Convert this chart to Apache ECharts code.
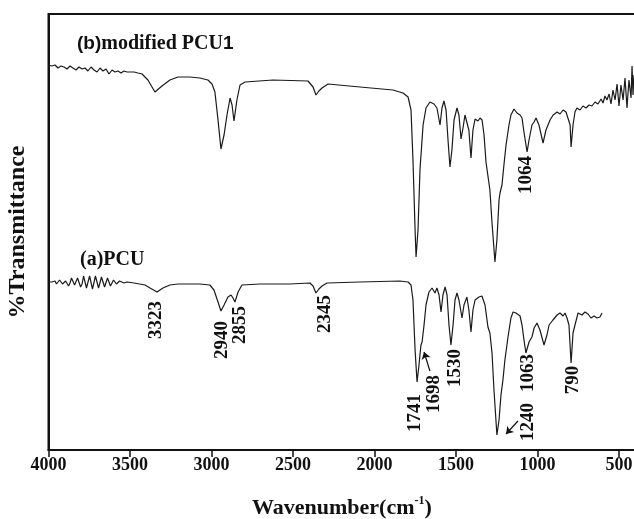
<!DOCTYPE html>
<html>
<head>
<meta charset="utf-8">
<script src="https://cdn.jsdelivr.net/npm/echarts@6/dist/echarts.min.js"></script>
<style>
  html, body { margin: 0; padding: 0; background: #fff; overflow: hidden; }
  #chart { width: 640px; height: 519px; }
</style>
</head>
<body>
<div id="chart"></div>
<script>
// wavenumber (cm-1) ticks
var xTicks = [4000, 3500, 3000, 2500, 2000, 1500, 1000, 500];

// (b) modified PCU1 : [wavenumber, transmittance (arb.)]
var specB = [
  [4000,385],[3979,384],[3960,385],[3942,382],[3923,384],[3905,383],[3886,381],[3868,384],
  [3850,382],[3831,380],[3813,383],[3794,381],[3776,382],[3758,379],[3739,383],[3721,380],
  [3702,378],[3684,382],[3666,379],[3647,381],[3629,376],[3610,380],[3592,378],[3574,379],
  [3555,377],[3537,379],[3518,378],[3500,378],[3475,378],[3451,377],[3426,376],
  [3390,370],[3347,358],[3304,364],[3255,370],[3206,373],[3132,373],[3071,372],[3022,370],
  [2997,366],[2979,358],[2960,330],[2942,301],[2923,315],[2905,335],[2886,352],[2874,345],
  [2862,329],[2844,350],[2825,365],[2794,368],[2623,370],[2408,369],[2377,363],[2359,355],
  [2341,359],[2322,362],[2285,366],[2089,363],[1887,360],[1825,357],[1794,353],[1776,340],
  [1764,290],[1751,220],[1745,193],[1733,220],[1721,280],[1702,325],[1684,342],[1660,348],
  [1635,346],[1617,342],[1598,325],[1586,342],[1574,349],[1561,340],[1549,310],[1537,283],
  [1525,300],[1512,330],[1494,342],[1482,335],[1469,311],[1457,322],[1445,335],[1433,337],
  [1421,320],[1408,292],[1396,320],[1383,331],[1365,329],[1353,332],[1340,330],[1328,315],
  [1316,288],[1304,287],[1292,260],[1279,227],[1261,188],[1249,210],[1236,250],[1230,257],
  [1218,265],[1206,285],[1193,305],[1175,325],[1163,335],[1144,341],[1126,337],[1107,335],
  [1095,332],[1083,318],[1064,298],[1052,310],[1034,325],[1021,328],[1009,332],[991,325],
  [966,307],[948,320],[923,330],[904,335],[880,338],[862,336],[843,340],[825,338],
  [813,340],[800,325],[794,303],[782,325],[770,338],[758,342],[739,340],[721,344],
  [702,342],[684,345],[666,344],[647,348],[629,346],[610,351],[598,347],[586,354],
  [574,350],[561,356],[549,346],[537,360],[524,350],[512,366],[500,344],[488,365],
  [475,350],[463,372],[451,342],[439,370],[426,352],[420,384],[414,355],[408,375]
];

// (a) PCU
var specA = [
  [4000,168],[3979,168],[3960,169],[3951,166],[3942,166],[3932,170],[3923,171],[3914,166],
  [3905,165],[3895,169],[3886,170],[3877,164],[3868,167],[3859,172],[3850,171],[3840,165],
  [3831,164],[3822,172],[3813,170],[3803,163],[3794,166],[3785,174],[3776,172],[3767,162],
  [3758,163],[3748,174],[3739,173],[3730,161],[3721,162],[3712,174],[3702,172],[3693,162],
  [3684,163],[3675,173],[3666,173],[3656,163],[3647,164],[3638,172],[3629,171],[3620,164],
  [3610,165],[3601,170],[3592,170],[3583,166],[3574,166],[3564,169],[3555,169],[3537,167],
  [3518,168],[3475,167],[3408,165],[3377,162],[3334,158],[3298,162],
  [3255,165],[3206,166],[3071,166],[3010,165],[2985,160],[2960,148],[2942,139],[2923,145],
  [2899,153],[2880,155],[2868,152],[2856,148],[2837,158],[2813,165],[2703,166],[2519,166],
  [2396,167],[2377,164],[2359,157],[2341,161],[2322,164],[2291,167],[2089,168],[1844,169],
  [1794,168],[1776,165],[1764,150],[1751,100],[1739,68],[1727,85],[1715,105],[1708,108],
  [1696,125],[1684,145],[1666,158],[1647,162],[1629,157],[1617,162],[1604,155],[1592,138],
  [1580,155],[1567,163],[1555,155],[1543,125],[1531,105],[1518,125],[1506,150],[1494,157],
  [1482,150],[1463,132],[1451,145],[1433,153],[1421,140],[1408,118],[1396,140],[1383,150],
  [1359,153],[1341,154],[1322,145],[1304,123],[1292,117],[1279,97],[1267,60],[1249,15],
  [1236,30],[1224,55],[1212,70],[1200,90],[1181,113],[1163,132],[1150,138],[1132,137],
  [1120,135],[1107,134],[1095,125],[1083,110],[1071,97],[1052,108],[1034,113],[1021,122],
  [1003,127],[985,120],[960,105],[942,115],[929,125],[905,130],[880,135],[862,137],
  [843,134],[831,137],[819,132],[807,125],[794,87],[782,117],[770,125],[751,137],
  [727,135],[709,138],[690,136],[672,132],[653,134],[635,132],[617,133],[604,137]
];

// peak annotations: [text, wavenumber, transmittance] (label centre)
var peaksA = [
  ['3323', 3340, 130], ['2940', 2936, 110], ['2855', 2825, 125], ['2345', 2304, 136],
  ['1741', 1752, 37], ['1698', 1635, 56], ['1530', 1506, 82], ['1240', 1058, 28],
  ['1063', 1058, 77], ['790', 782, 70]
];
var peaksB = [['1064', 1071, 275]];

// arrows: [from, to]
var arrowsA = [
  [[1660, 79], [1696, 98]],
  [[1120, 29], [1193, 16]]
];

var serif = '"Liberation Serif", "Times New Roman", serif';
var sans = '"Liberation Sans", Arial, sans-serif';

function peakPoints(list) {
    return list.map(function (p) {
        return { name: p[0], coord: [p[1], p[2]] };
    });
}

var chart = echarts.init(document.getElementById('chart'));
var option = {
    animation: false,
    backgroundColor: '#fff',
    grid: {
        left: 48.5,
        right: 4.7,
        top: 14,
        bottom: 69,
        outerBoundsMode: 'none',
        containLabel: false,
        show: true,
        borderColor: '#111',
        borderWidth: 2
    },
    xAxis: {
        type: 'value',
        inverse: true,
        min: 400,
        max: 4000,
        name: '{n|Wavenumber(cm}{s|-1}{n|)}',
        nameLocation: 'middle',
        nameGap: 45,
        nameTextStyle: {
            rich: {
                n: { fontFamily: serif, fontWeight: 'bold', fontSize: 22, color: '#111', lineHeight: 26 },
                s: { fontFamily: serif, fontWeight: 'bold', fontSize: 12, color: '#111', verticalAlign: 'top', lineHeight: 26 }
            }
        },
        axisLine: { lineStyle: { color: '#111', width: 2 } },
        axisTick: { customValues: xTicks, length: 7, lineStyle: { color: '#111', width: 1.5 } },
        axisLabel: {
            customValues: xTicks,
            margin: 6,
            color: '#111',
            fontFamily: serif,
            fontWeight: 'bold',
            fontSize: 18,
            formatter: function (v) { return String(v); }
        },
        splitLine: { show: false }
    },
    yAxis: {
        type: 'value',
        min: 0,
        max: 436,
        name: '%Transmittance',
        nameLocation: 'middle',
        nameGap: 19,
        nameTextStyle: { fontFamily: serif, fontWeight: 'bold', fontSize: 24, color: '#111' },
        axisLine: { show: true, lineStyle: { color: '#111', width: 2 } },
        axisTick: { show: false },
        axisLabel: { show: false },
        splitLine: { show: false }
    },
    series: [
        {
            name: 'modified PCU1',
            type: 'line',
            data: specB,
            showSymbol: false,
            lineStyle: { color: '#1a1a1a', width: 1.2 },
            markPoint: {
                symbolSize: 0,
                label: {
                    show: true, formatter: '{b}', position: 'inside', rotate: 90,
                    fontFamily: serif, fontWeight: 'bold', fontSize: 19, color: '#111'
                },
                data: peakPoints(peaksB)
            }
        },
        {
            name: 'PCU',
            type: 'line',
            data: specA,
            showSymbol: false,
            lineStyle: { color: '#1a1a1a', width: 1.2 },
            markPoint: {
                symbolSize: 0,
                label: {
                    show: true, formatter: '{b}', position: 'inside', rotate: 90,
                    fontFamily: serif, fontWeight: 'bold', fontSize: 19, color: '#111'
                },
                data: peakPoints(peaksA)
            },
            markLine: {
                silent: true,
                symbol: ['none', 'arrow'],
                symbolSize: 7,
                label: { show: false },
                lineStyle: { color: '#111', width: 1.2, type: 'solid' },
                data: arrowsA.map(function (a) {
                    return [{ coord: a[0] }, { coord: a[1] }];
                })
            }
        }
    ],
    graphic: [
        {
            type: 'text',
            left: 77,
            top: 34,
            style: {
                text: '{s|(b)}{m|modified PCU}{s|1}',
                rich: {
                    s: { fontFamily: sans, fontWeight: 'bold', fontSize: 19, fill: '#111' },
                    m: { fontFamily: serif, fontWeight: 'bold', fontSize: 20, fill: '#111' }
                }
            }
        },
        {
            type: 'text',
            left: 80,
            top: 250,
            style: {
                text: '(a)PCU',
                font: 'bold 20px ' + serif,
                fill: '#111'
            }
        }
    ]
};
chart.setOption(option);

window.onresize = chart.resize;
</script>
</body>
</html>
